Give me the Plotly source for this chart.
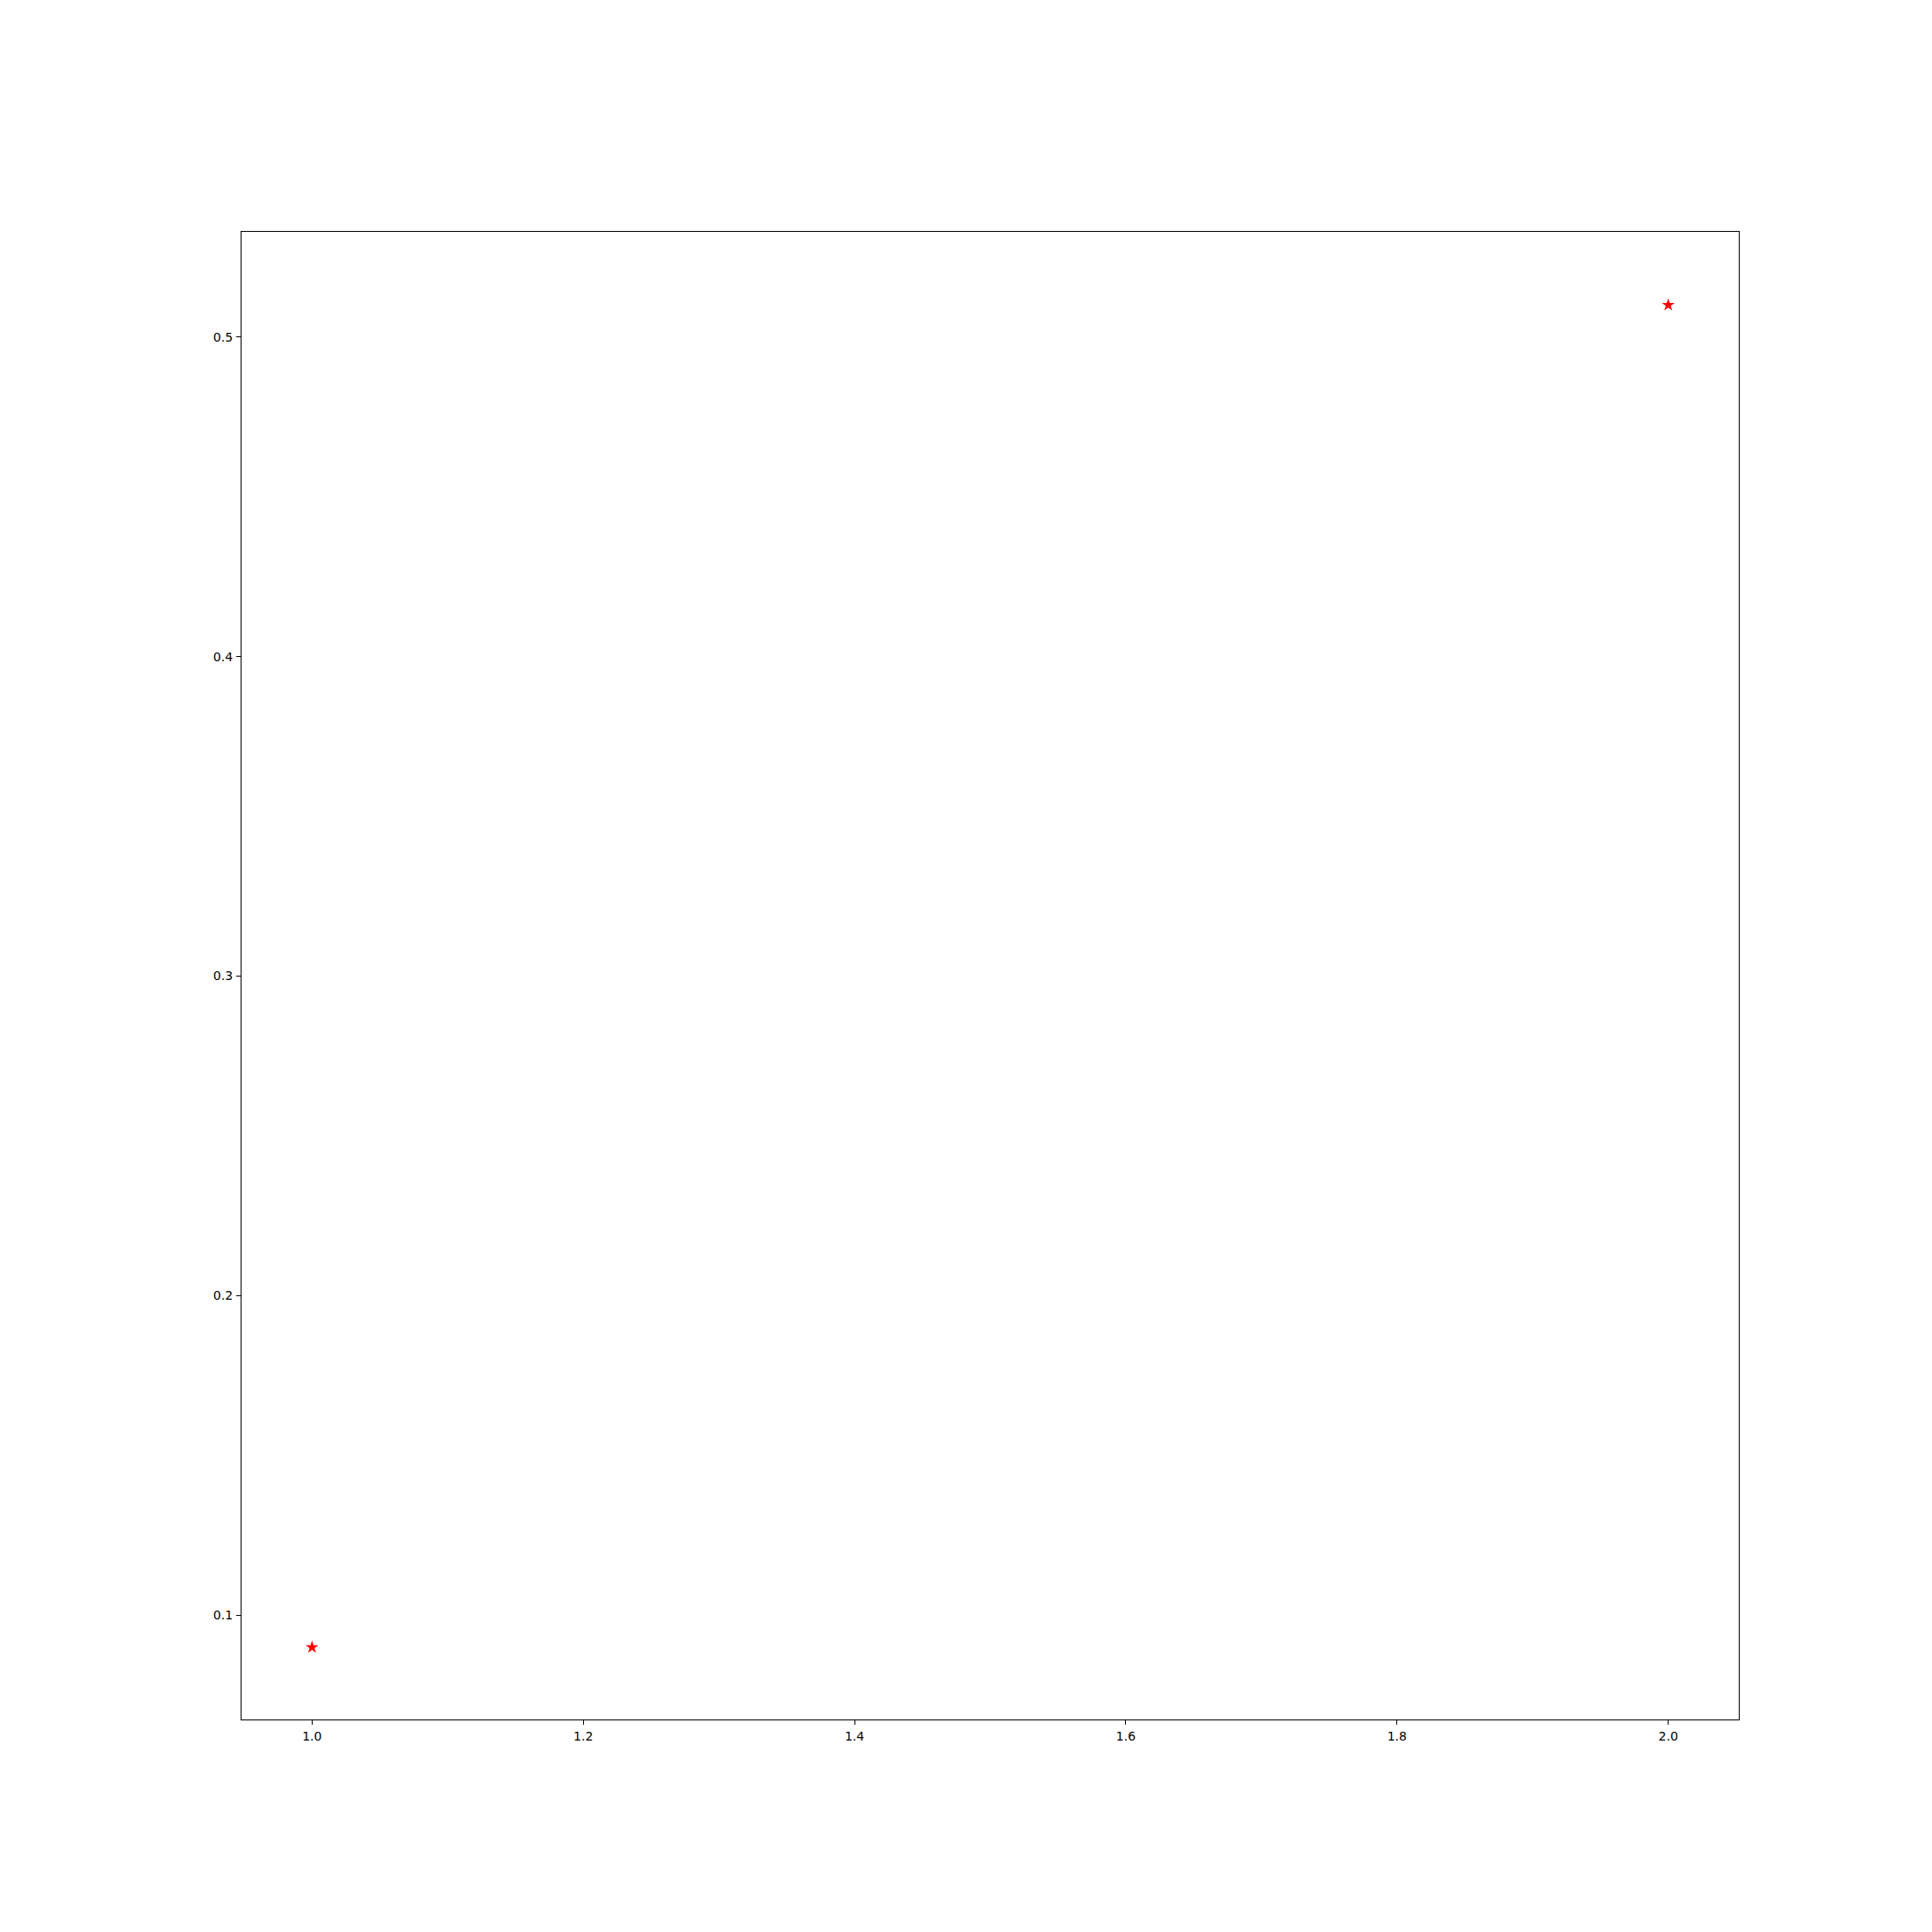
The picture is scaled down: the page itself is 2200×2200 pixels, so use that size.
import plotly.graph_objects as go

x_vals = [1, 2]
y_vals = [0.09, 0.51]
x_ticks = [1.0, 1.2, 1.4, 1.6, 1.8, 2.0]
x_tick_labels = ["1.0", "1.2", "1.4", "1.6", "1.8", "2.0"]
y_ticks = [0.1, 0.2, 0.3, 0.4, 0.5]
y_tick_labels = ["0.1", "0.2", "0.3", "0.4", "0.5"]

fig = go.Figure()
fig.add_trace(go.Scatter(
    x=x_vals, y=y_vals, mode="markers",
    marker=dict(symbol="star", color="red", size=11, line=dict(width=0)),
    showlegend=False,
))

axis_common = dict(
    showline=True, linecolor="black", linewidth=1.3, mirror=True,
    showgrid=False, zeroline=False,
    ticks="outside", ticklen=5, tickwidth=1.2, tickcolor="black",
    ticklabelstandoff=1,
    tickfont=dict(family="DejaVu Sans", size=14, color="black"),
)
fig.update_xaxes(range=[0.948, 2.052], tickvals=x_ticks, ticktext=x_tick_labels, **axis_common)
fig.update_yaxes(range=[0.0674, 0.5329], tickvals=y_ticks, ticktext=y_tick_labels, **axis_common)

fig.update_layout(
    width=2200, height=2200,
    margin=dict(l=275, r=220, t=264, b=242, pad=0),
    paper_bgcolor="white", plot_bgcolor="white",
)
fig.write_html("out.html")
